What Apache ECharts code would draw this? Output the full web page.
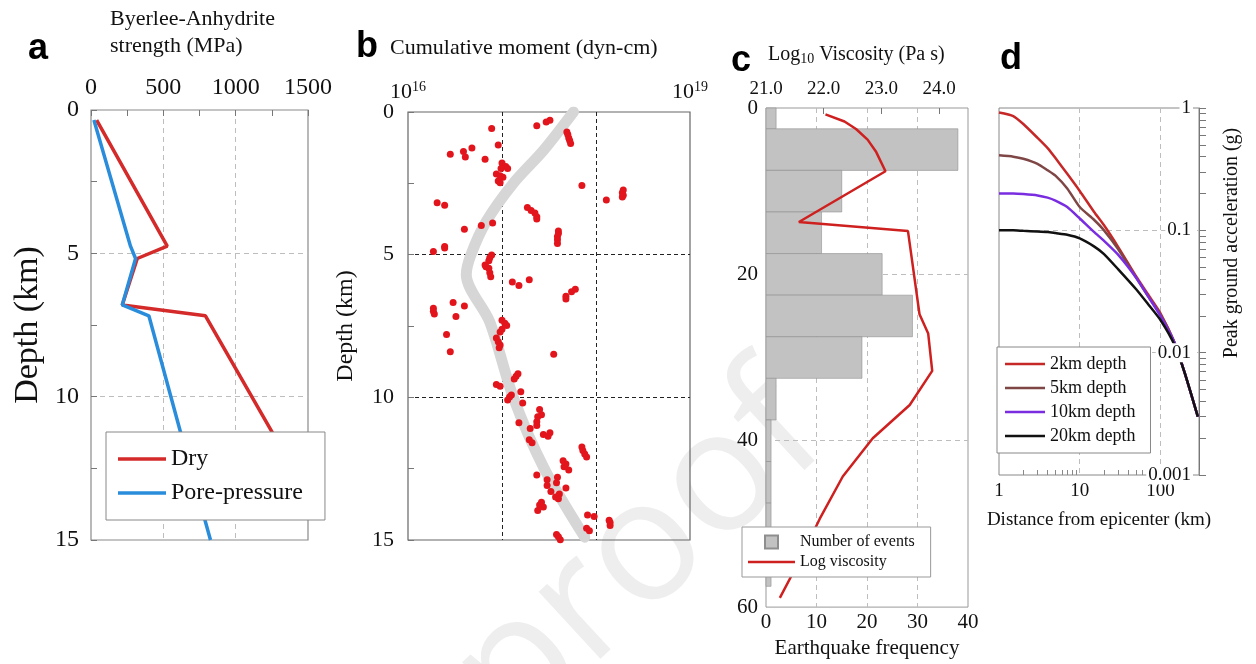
<!DOCTYPE html>
<html>
<head>
<meta charset="utf-8">
<script src="https://cdn.jsdelivr.net/npm/echarts@6/dist/echarts.min.js"></script>
<style>
  html, body { margin: 0; padding: 0; background: #fff; }
  #main { width: 1256px; height: 664px; }
</style>
</head>
<body>
<div id="main"></div>
<script>
const SERIF = '"Liberation Serif", "DejaVu Serif", serif'

// (a) Byerlee-Anhydrite strength profile
const dryDepth = [0.35, 4.75, 5.18, 6.8, 7.18, 11.24, 13.4]
const dryStrength = [39, 527, 320, 216, 791, 1252, 1500]
const poreDepth = [0.35, 4.75, 5.18, 6.8, 7.18, 11.24, 15]
const poreStrength = [20, 273, 308, 216, 400, 619, 826]

// (b) cumulative moment, log10(dyn-cm)
const trendMoment = [17.76, 17.44, 17.12, 16.83, 16.67, 16.62, 16.87, 17.12, 17.45, 17.88]
const trendDepth = [0, 1.35, 2.5, 3.85, 5.0, 5.7, 7.36, 10, 12.5, 14.9]
const eventMoment = [
  17.51, 17.47, 17.37, 16.89, 17.69, 17.70, 17.71, 17.72, 17.73, 16.96,
  16.68, 16.59, 16.61, 16.45, 16.82, 17.00, 17.04, 17.06, 16.99, 16.94,
  16.98, 17.01, 16.96, 16.98, 17.85, 18.29, 18.28, 18.29, 18.28, 18.11,
  16.31, 16.39, 17.27, 17.31, 17.35, 17.37, 17.37, 16.90, 16.78, 16.60,
  17.60, 17.60, 17.59, 17.59, 17.59, 16.39, 16.39, 16.27, 16.89, 16.87,
  16.86, 16.82, 16.83, 16.86, 16.87, 16.88, 17.11, 17.18, 17.29, 17.78,
  17.74, 17.68, 17.68, 16.48, 16.60, 16.51, 16.27, 16.27, 16.28, 17.00,
  17.03, 17.05, 17.00, 16.98, 16.41, 16.94, 16.96, 16.98, 16.97, 16.45,
  17.55, 17.17, 17.15, 17.13, 16.94, 16.98, 17.20, 17.10, 17.08, 17.06,
  17.22, 17.40, 17.42, 17.38, 17.37, 17.37, 17.18, 17.30, 17.44, 17.51,
  17.49, 17.29, 17.32, 17.85, 17.86, 17.88, 17.90, 17.65, 17.68, 17.66,
  17.71, 17.37, 17.59, 17.48, 17.58, 17.48, 17.68, 17.52, 17.61, 17.57,
  17.60, 17.42, 17.40, 17.44, 17.38, 17.91, 17.98, 18.14, 18.15, 18.15,
  17.90, 17.93, 17.58, 17.60, 17.62
]
const eventDepth = [
  0.29, 0.35, 0.48, 0.58, 0.70, 0.79, 0.91, 1.00, 1.10, 1.16,
  1.26, 1.38, 1.58, 1.48, 1.66, 1.79, 1.91, 1.98, 1.98, 2.17,
  2.23, 2.29, 2.42, 2.48, 2.58, 2.73, 2.83, 2.92, 2.98, 3.08,
  3.18, 3.27, 3.35, 3.45, 3.54, 3.67, 3.75, 3.89, 3.98, 4.11,
  4.17, 4.26, 4.36, 4.48, 4.61, 4.71, 4.77, 4.89, 5.01, 5.11,
  5.21, 5.36, 5.42, 5.48, 5.63, 5.77, 5.96, 6.08, 5.88, 6.21,
  6.30, 6.46, 6.55, 6.68, 6.80, 7.17, 6.88, 6.98, 7.08, 7.30,
  7.40, 7.48, 7.61, 7.71, 7.80, 7.92, 8.05, 8.17, 8.26, 8.40,
  8.49, 9.17, 9.26, 9.36, 9.55, 9.61, 9.80, 9.92, 9.99, 10.09,
  10.20, 10.43, 10.61, 10.68, 10.86, 10.99, 10.89, 11.09, 11.30, 11.24,
  11.36, 11.49, 11.59, 11.74, 11.86, 11.99, 12.09, 12.22, 12.34, 12.43,
  12.55, 12.72, 12.80, 12.89, 12.99, 13.09, 13.18, 13.30, 13.39, 13.49,
  13.55, 13.68, 13.77, 13.84, 13.97, 14.12, 14.18, 14.31, 14.39, 14.49,
  14.59, 14.68, 14.81, 14.89, 14.99
]

// (c) histogram of events + viscosity profile
const binTop = [0, 2.5, 7.5, 12.5, 17.5, 22.5, 27.5, 32.5, 37.5, 42.5, 47.5, 52.5]
const binBottom = [2.5, 7.5, 12.5, 17.5, 22.5, 27.5, 32.5, 37.5, 42.5, 47.5, 52.5, 57.5]
const eventCount = [2, 38, 15, 11, 23, 29, 19, 2, 1, 1, 1, 1]
const viscDepth = [0.76, 1.62, 2.53, 3.8, 5.3, 7.6, 13.7, 14.8, 24.8, 27.1, 31.6, 35.7, 39.7, 44.3, 49.4, 54.4, 58.9]
const viscLog = [22.03, 22.36, 22.56, 22.76, 22.91, 23.07, 21.57, 23.46, 23.66, 23.81, 23.88, 23.49, 22.85, 22.33, 21.93, 21.58, 21.24]

// (d) peak ground acceleration vs distance
const distance = [1, 1.5, 2, 3, 4, 5, 7, 10, 15, 20, 30, 50, 70, 100, 150, 200, 290]
const pga2km = [0.92, 0.86, 0.74, 0.57, 0.47, 0.39, 0.29, 0.21, 0.142, 0.11, 0.073, 0.042, 0.03, 0.021, 0.012, 0.0068, 0.003]
const pga5km = [0.41, 0.40, 0.385, 0.35, 0.31, 0.28, 0.22, 0.155, 0.122, 0.10, 0.07, 0.041, 0.029, 0.0205, 0.012, 0.0068, 0.003]
const pga10km = [0.20, 0.20, 0.198, 0.193, 0.185, 0.175, 0.155, 0.125, 0.097, 0.082, 0.063, 0.041, 0.029, 0.02, 0.012, 0.0068, 0.003]
const pga20km = [0.10, 0.10, 0.099, 0.098, 0.097, 0.095, 0.092, 0.086, 0.074, 0.064, 0.048, 0.033, 0.025, 0.0185, 0.0115, 0.0068, 0.003]

// tick positions (log minor ticks) for panel d
const distTicks = [2, 3, 4, 5, 6, 7, 8, 9, 20, 30, 40, 50, 60, 70, 80, 90, 200, 300]
const pgaTicks = [0.001, 0.002, 0.003, 0.004, 0.005, 0.006, 0.007, 0.008, 0.009,
  0.01, 0.02, 0.03, 0.04, 0.05, 0.06, 0.07, 0.08, 0.09,
  0.1, 0.2, 0.3, 0.4, 0.5, 0.6, 0.7, 0.8, 0.9, 1]

const pair = (xs, ys) => xs.map((x, i) => [x, ys[i]])
const isDecade = v => Math.abs(Math.log10(v) - Math.round(Math.log10(v))) < 1e-6

const lightDash = { show: true, showMinLine: false, showMaxLine: false, lineStyle: { type: [5, 4], color: '#bdbdbd', width: 1 } }
const darkDash = { show: true, showMinLine: false, showMaxLine: false, lineStyle: { type: [4, 3], color: '#222', width: 1 } }
const innerTick = { show: true, inside: true, length: 6, lineStyle: { color: '#777' } }
const halfMinor = { show: true, splitNumber: 2, length: 6, lineStyle: { color: '#777' } }
const hidden = { axisLine: { show: false }, axisTick: { show: false }, axisLabel: { show: false }, splitLine: { show: false } }

const chart = echarts.init(document.getElementById('main'))
chart.setOption({
  animation: false,
  backgroundColor: '#fff',
  textStyle: { fontFamily: SERIF, color: '#111' },
  grid: [
    { left: 91, top: 110, width: 217, height: 430, show: true, borderColor: '#8a8a8a', borderWidth: 1.2, backgroundColor: 'transparent' },
    { left: 408, top: 112, width: 282, height: 428, show: true, borderColor: '#666', borderWidth: 1.2, backgroundColor: 'transparent' },
    { left: 766, top: 108, width: 202, height: 504, show: true, borderColor: '#999', borderWidth: 1, backgroundColor: 'transparent' },
    { left: 999, top: 108, width: 200, height: 367, show: true, borderColor: '#888', borderWidth: 1, backgroundColor: 'transparent' },
  ],
  xAxis: [
    { // 0: a
      gridIndex: 0, type: 'value', position: 'top', min: 0, max: 1500, interval: 500,
      axisLine: { show: false }, axisTick: innerTick, minorTick: halfMinor,
      axisLabel: { fontFamily: SERIF, fontSize: 24, color: '#111', margin: 10, formatter: v => String(v) },
      splitLine: lightDash,
    },
    { // 1: b
      gridIndex: 1, type: 'value', position: 'top', min: 16, max: 19, interval: 1,
      axisLine: { show: false }, axisTick: { show: false },
      axisLabel: {
        margin: 8,
        formatter: v => (v === 16 || v === 19) ? '{b|10}{s|' + v + '}' : '',
        rich: {
          b: { fontFamily: SERIF, fontSize: 22, color: '#111' },
          s: { fontFamily: SERIF, fontSize: 14, color: '#111', verticalAlign: 'top', padding: [0, 0, 10, 0] },
        },
      },
      splitLine: darkDash,
    },
    { // 2: c bottom
      gridIndex: 2, type: 'value', position: 'bottom', min: 0, max: 40, interval: 10,
      name: 'Earthquake frequency', nameLocation: 'middle', nameGap: 27,
      nameTextStyle: { fontFamily: SERIF, fontSize: 21, color: '#111' },
      axisLine: { show: false }, axisTick: { show: false },
      axisLabel: { fontFamily: SERIF, fontSize: 21, color: '#111', margin: 5 },
      splitLine: lightDash,
    },
    { // 3: c top (viscosity)
      gridIndex: 2, type: 'value', position: 'top', min: 21, max: 24.5, interval: 1,
      axisLine: { show: false },
      axisTick: { show: true, inside: true, length: 6, customValues: [22, 23, 24], lineStyle: { color: '#777' } },
      axisLabel: { fontFamily: SERIF, fontSize: 19, color: '#111', margin: 9,
        formatter: v => Number.isInteger(v) ? v.toFixed(1) : '' },
      splitLine: { show: false },
    },
    { // 4: d
      gridIndex: 3, type: 'log', logBase: 10, min: 1, max: 300, position: 'bottom',
      name: 'Distance from epicenter (km)', nameLocation: 'middle', nameGap: 36,
      nameTextStyle: { fontFamily: SERIF, fontSize: 19, color: '#111' },
      axisLine: { show: false }, axisTick: { show: false },
      axisLabel: { fontFamily: SERIF, fontSize: 19, color: '#111', margin: 7,
        formatter: v => isDecade(v) ? String(Math.round(v)) : '' },
      splitLine: lightDash,
    },
    { // 5: d minor ticks
      gridIndex: 3, type: 'log', logBase: 10, min: 1, max: 300, position: 'bottom',
      ...hidden,
      axisTick: { show: true, inside: true, length: 5, lineStyle: { color: '#888' }, customValues: distTicks },
    },
  ],
  yAxis: [
    { // 0: a
      gridIndex: 0, type: 'value', inverse: true, min: 0, max: 15, interval: 5,
      name: 'Depth (km)', nameLocation: 'middle', nameGap: 46,
      nameTextStyle: { fontFamily: SERIF, fontSize: 34, color: '#111' },
      axisLine: { show: false }, axisTick: innerTick, minorTick: halfMinor,
      axisLabel: { fontFamily: SERIF, fontSize: 24, color: '#111', margin: 12 },
      splitLine: lightDash,
    },
    { // 1: b
      gridIndex: 1, type: 'value', inverse: true, min: 0, max: 15, interval: 5,
      name: 'Depth (km)', nameLocation: 'middle', nameGap: 50,
      nameTextStyle: { fontFamily: SERIF, fontSize: 24, color: '#111' },
      axisLine: { show: false }, axisTick: innerTick, minorTick: halfMinor,
      axisLabel: { fontFamily: SERIF, fontSize: 22, color: '#111', margin: 14 },
      splitLine: darkDash,
    },
    { // 2: c
      gridIndex: 2, type: 'value', inverse: true, min: 0, max: 60, interval: 20,
      axisLine: { show: false }, axisTick: { show: false },
      axisLabel: { fontFamily: SERIF, fontSize: 21, color: '#111', margin: 8 },
      splitLine: lightDash,
    },
    { // 3: d (axis line and grid)
      gridIndex: 3, type: 'log', logBase: 10, min: 0.001, max: 1, position: 'right',
      axisLine: { show: true, lineStyle: { color: '#777' } },
      axisTick: { show: false }, axisLabel: { show: false },
      splitLine: lightDash,
    },
    { // 4: d labels drawn over the curves
      gridIndex: 3, type: 'log', logBase: 10, min: 0.001, max: 1, position: 'right', z: 10,
      axisLine: { show: false }, axisTick: { show: false }, splitLine: { show: false },
      axisLabel: { inside: true, fontFamily: SERIF, fontSize: 19, color: '#111', margin: 6,
        backgroundColor: '#fff', padding: [0, 2] },
    },
    { // 5: d minor ticks
      gridIndex: 3, type: 'log', logBase: 10, min: 0.001, max: 1, position: 'right',
      ...hidden,
      axisTick: { show: true, inside: false, length: 7, lineStyle: { color: '#777' }, customValues: pgaTicks },
    },
  ],
  legend: [
    {
      data: [
        { name: 'Dry', icon: 'path://M0,0h48v3.5h-48z' },
        { name: 'Pore-pressure', icon: 'path://M0,0h48v3.5h-48z' },
      ],
      left: 106, top: 432, orient: 'vertical',
      itemWidth: 48, itemHeight: 14, itemGap: 10, padding: [15, 22, 15, 12],
      backgroundColor: '#fff', borderColor: '#888', borderWidth: 1, borderRadius: 0,
      textStyle: { fontFamily: SERIF, fontSize: 24, color: '#111' },
    },
    {
      data: [
        { name: 'Number of events', icon: 'path://M0,0h10v10h-10z' },
        { name: 'Log viscosity', icon: 'path://M0,0h47v2.5h-47z' },
      ],
      left: 742, top: 527, orient: 'vertical',
      itemWidth: 47, itemHeight: 13, itemGap: 4, padding: [7, 16, 7, 6],
      backgroundColor: '#fff', borderColor: '#999', borderWidth: 1, borderRadius: 0,
      textStyle: { fontFamily: SERIF, fontSize: 16, color: '#111' },
    },
    {
      data: ['2km depth', '5km depth', '10km depth', '20km depth'].map(n => ({ name: n, icon: 'path://M0,0h40v2.5h-40z' })),
      left: 997, top: 347, orient: 'vertical',
      itemWidth: 40, itemHeight: 12, itemGap: 6, padding: [8, 15, 8, 8],
      backgroundColor: '#fff', borderColor: '#888', borderWidth: 1, borderRadius: 0,
      textStyle: { fontFamily: SERIF, fontSize: 18, color: '#111' },
    },
  ],
  graphic: [
    { type: 'text', x: 800, y: 408, rotation: Math.PI / 4 * 0.95, z: -1, silent: true,
      style: { text: 'Pre-proof', font: '170px "Open Sans"', fill: '#eeeeee', align: 'right', verticalAlign: 'middle' } },
    { type: 'text', x: 38, y: 49, style: { text: 'a', font: 'bold 36px "Liberation Sans"', fill: '#000', align: 'center', verticalAlign: 'middle' } },
    { type: 'text', x: 367, y: 47, style: { text: 'b', font: 'bold 36px "Liberation Sans"', fill: '#000', align: 'center', verticalAlign: 'middle' } },
    { type: 'text', x: 741, y: 61, style: { text: 'c', font: 'bold 36px "Liberation Sans"', fill: '#000', align: 'center', verticalAlign: 'middle' } },
    { type: 'text', x: 1011, y: 59, style: { text: 'd', font: 'bold 36px "Liberation Sans"', fill: '#000', align: 'center', verticalAlign: 'middle' } },
    { type: 'text', x: 110, y: 6, style: { text: 'Byerlee-Anhydrite\nstrength (MPa)', font: '22px ' + SERIF, lineHeight: 27, fill: '#111', align: 'left', verticalAlign: 'top' } },
    { type: 'text', x: 390, y: 48, style: { text: 'Cumulative moment (dyn-cm)', font: '22px ' + SERIF, fill: '#111', align: 'left', verticalAlign: 'middle' } },
    { type: 'text', x: 768, y: 55, style: {
        text: '{n|Log}{s|10}{n| Viscosity (Pa s)}', align: 'left', verticalAlign: 'middle',
        rich: {
          n: { fontFamily: SERIF, fontSize: 20, fill: '#111', color: '#111' },
          s: { fontFamily: SERIF, fontSize: 14, fill: '#111', color: '#111', verticalAlign: 'bottom', padding: [8, 0, 0, 0] },
        } } },
    { type: 'text', x: 1232, y: 243, rotation: Math.PI / 2, style: { text: 'Peak ground acceleration (g)', font: '20px ' + SERIF, fill: '#111', align: 'center', verticalAlign: 'middle' } },
  ],
  series: [
    { name: 'Dry', type: 'line', xAxisIndex: 0, yAxisIndex: 0, symbol: 'none',
      lineStyle: { color: '#d42a2a', width: 3.5 }, itemStyle: { color: '#d42a2a' },
      data: pair(dryStrength, dryDepth) },
    { name: 'Pore-pressure', type: 'line', xAxisIndex: 0, yAxisIndex: 0, symbol: 'none',
      lineStyle: { color: '#2a8ddc', width: 3.5 }, itemStyle: { color: '#2a8ddc' },
      data: pair(poreStrength, poreDepth) },
    { name: 'trend', type: 'line', xAxisIndex: 1, yAxisIndex: 1, symbol: 'none', smooth: 0.3, silent: true, z: 1,
      lineStyle: { color: '#d6d6d6', width: 11, cap: 'round', join: 'round' },
      data: pair(trendMoment, trendDepth) },
    { name: 'events', type: 'scatter', xAxisIndex: 1, yAxisIndex: 1, symbolSize: 7,
      itemStyle: { color: '#e3151c', opacity: 1 },
      data: pair(eventMoment, eventDepth) },
    { name: 'Number of events', type: 'custom', xAxisIndex: 2, yAxisIndex: 2, z: 1,
      itemStyle: { color: '#c2c2c2', borderColor: '#8e8e8e', borderWidth: 0.6 },
      encode: { x: 0, y: [1, 2] },
      data: eventCount.map((c, i) => [c, binTop[i], binBottom[i]]),
      renderItem: (params, api) => {
        const p0 = api.coord([0, api.value(1)])
        const p1 = api.coord([api.value(0), api.value(2)])
        return { type: 'rect', shape: { x: p0[0], y: p0[1], width: p1[0] - p0[0], height: p1[1] - p0[1] }, style: api.style() }
      } },
    { name: 'Log viscosity', type: 'line', xAxisIndex: 3, yAxisIndex: 2, symbol: 'none',
      lineStyle: { color: '#cf2020', width: 2.5 }, itemStyle: { color: '#cf2020' },
      data: pair(viscLog, viscDepth) },
    { name: '2km depth', type: 'line', xAxisIndex: 4, yAxisIndex: 3, symbol: 'none', smooth: 0.2,
      lineStyle: { color: '#c62828', width: 2.5 }, itemStyle: { color: '#c62828' },
      data: pair(distance, pga2km) },
    { name: '5km depth', type: 'line', xAxisIndex: 4, yAxisIndex: 3, symbol: 'none', smooth: 0.2,
      lineStyle: { color: '#7f4646', width: 2.5 }, itemStyle: { color: '#7f4646' },
      data: pair(distance, pga5km) },
    { name: '10km depth', type: 'line', xAxisIndex: 4, yAxisIndex: 3, symbol: 'none', smooth: 0.2,
      lineStyle: { color: '#7a2de0', width: 2.5 }, itemStyle: { color: '#7a2de0' },
      data: pair(distance, pga10km) },
    { name: '20km depth', type: 'line', xAxisIndex: 4, yAxisIndex: 3, symbol: 'none', smooth: 0.2,
      lineStyle: { color: '#111', width: 2.5 }, itemStyle: { color: '#111' },
      data: pair(distance, pga20km) },
  ],
})
</script>
</body>
</html>
